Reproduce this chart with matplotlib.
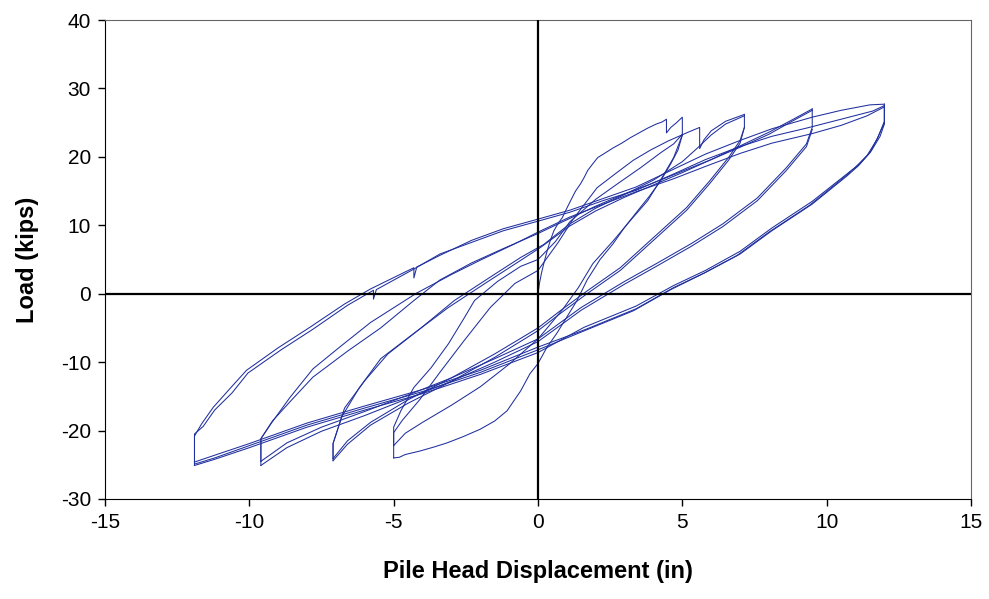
import matplotlib
matplotlib.use("Agg")
import matplotlib.pyplot as plt

plt.rcParams['font.family'] = ['Liberation Sans', 'DejaVu Sans']
plt.rcParams['axes.unicode_minus'] = False

# (displacement in, load kips), one list per branch
first_load = [(0.0, 0.0), (0.05, 1.5), (0.12, 3.0), (0.2, 4.4), (0.3, 6.0), (0.42, 7.7),
              (0.55, 9.2), (0.7, 10.3), (0.84, 11.1), (1.0, 12.5), (1.13, 13.6), (1.3, 15.0),
              (1.48, 16.1), (1.6, 17.0), (1.72, 18.0), (1.9, 19.0), (2.07, 19.9), (2.3, 20.5),
              (2.6, 21.3), (2.9, 22.0), (3.2, 22.8), (3.5, 23.5), (3.8, 24.2), (4.1, 24.8),
              (4.3, 25.1), (4.45, 25.5), (4.45, 23.5), (4.6, 24.3), (4.8, 25.0), (5.0, 25.8),
              (5.0, 23.2)]

down5a = [(5.0, 23.2), (4.85, 21.0), (4.6, 19.0), (4.25, 16.5), (3.85, 14.2), (3.45, 12.1),
          (3.0, 9.7), (2.6, 7.3), (2.15, 5.0), (1.7, 2.0), (1.35, -1.0), (1.0, -3.4),
          (0.65, -5.8), (0.3, -7.9), (0.0, -10.2), (-0.28, -11.7), (-0.6, -14.2), (-1.07, -17.1),
          (-1.5, -18.6), (-2.0, -19.8), (-2.6, -20.9), (-3.15, -21.8), (-3.6, -22.4),
          (-4.1, -23.0), (-4.6, -23.5), (-4.8, -23.9), (-5.0, -24.0)]
up5a = [(-5.0, -24.0), (-5.0, -19.5), (-4.75, -17.1), (-4.3, -13.7), (-3.7, -10.8),
        (-3.1, -7.3), (-2.55, -3.5), (-2.2, -1.0), (-1.4, 1.8), (-0.6, 4.0), (0.0, 5.0),
        (0.6, 7.6), (1.1, 10.5), (2.0, 13.8), (2.8, 16.2), (3.55, 18.4), (4.25, 20.6),
        (4.7, 21.9), (5.0, 23.3)]
down5b = [(5.0, 23.2), (4.7, 19.9), (4.3, 17.0), (3.8, 13.6), (3.2, 10.7), (2.6, 7.7),
          (1.9, 4.4), (1.4, 0.9), (0.87, -2.2), (0.4, -4.6), (0.0, -6.6), (-1.0, -10.3),
          (-2.0, -13.6), (-3.0, -16.3), (-4.0, -18.8), (-4.6, -20.4), (-5.0, -22.2)]
up5b = [(-5.0, -22.2), (-5.0, -20.3), (-4.7, -18.5), (-4.1, -15.5), (-3.4, -11.5),
        (-2.55, -6.8), (-1.65, -2.0), (-0.8, 1.5), (0.0, 3.4), (0.7, 7.5), (1.2, 10.8),
        (2.05, 15.5), (2.7, 17.6), (3.3, 19.5), (3.9, 21.0), (4.5, 22.3), (5.2, 23.6),
        (5.6, 24.3), (5.6, 21.2), (5.75, 22.5), (6.0, 23.8), (6.5, 25.2), (7.15, 26.2)]

down7a = [(7.15, 26.2), (7.15, 24.3), (7.0, 22.4), (6.6, 19.9), (5.95, 16.5), (5.15, 12.6),
          (4.0, 8.2), (2.85, 3.8), (1.7, 0.4), (0.77, -2.5), (0.0, -5.0), (-1.5, -8.8),
          (-3.0, -12.3), (-4.5, -15.5), (-5.8, -18.8), (-6.6, -21.5), (-7.1, -24.1)]
up7a = [(-7.1, -24.1), (-7.1, -21.9), (-6.7, -16.7), (-6.0, -12.7), (-5.2, -8.8),
        (-4.05, -5.0), (-2.9, -1.0), (-1.7, 2.3), (-0.6, 5.3), (0.2, 7.2), (1.1, 10.2),
        (2.0, 12.5), (3.0, 14.5), (4.0, 16.6), (5.0, 19.3), (5.5, 21.2), (6.0, 23.2),
        (6.5, 24.8), (7.15, 26.0)]
down7b = [(7.15, 24.3), (7.0, 22.0), (6.6, 19.5), (5.95, 16.1), (5.15, 12.2), (4.0, 7.8),
          (2.85, 3.4), (1.7, 0.0), (0.77, -2.9), (0.0, -5.4), (-1.5, -9.3), (-3.0, -12.8),
          (-4.5, -16.0), (-5.8, -19.2), (-6.6, -22.0), (-7.1, -24.4)]
up7b = [(-7.1, -24.4), (-7.1, -21.9), (-6.8, -18.0), (-6.2, -13.8), (-5.45, -9.5),
        (-4.3, -5.8), (-3.1, -2.0), (-1.8, 1.6), (-0.7, 4.6), (0.1, 6.8), (1.1, 9.9),
        (2.0, 12.1), (3.0, 14.1), (4.0, 15.9), (5.0, 17.7), (6.0, 19.6), (7.0, 21.6),
        (8.0, 23.6), (8.8, 25.4), (9.5, 27.0)]

down9a = [(9.5, 27.0), (9.5, 24.3), (9.3, 21.9), (8.6, 18.4), (7.6, 14.0), (6.4, 10.2),
          (5.3, 7.3), (4.1, 4.4), (3.0, 1.8), (1.5, -2.0), (0.0, -6.6), (-1.5, -9.5),
          (-3.0, -12.3), (-4.5, -14.8), (-6.0, -17.2), (-7.5, -19.5), (-8.7, -21.8),
          (-9.6, -24.5)]
up9a = [(-9.6, -24.5), (-9.6, -21.2), (-9.2, -18.6), (-8.55, -15.6), (-7.8, -12.2),
        (-6.6, -8.4), (-5.45, -5.0), (-4.3, -1.0), (-3.4, 2.0), (-2.3, 4.5), (-1.2, 6.6),
        (0.0, 8.8), (1.1, 11.0), (2.0, 12.8), (3.0, 14.6), (4.0, 16.2), (5.0, 17.9),
        (6.0, 19.6), (7.0, 21.4), (8.0, 23.3), (8.8, 25.2), (9.5, 26.8)]
down9b = [(9.5, 24.0), (9.3, 21.5), (8.6, 18.0), (7.6, 13.6), (6.4, 9.8), (5.3, 6.9),
          (4.1, 4.0), (3.0, 1.4), (1.5, -2.4), (0.0, -7.0), (-1.5, -10.0), (-3.0, -12.8),
          (-4.5, -15.3), (-6.0, -17.8), (-7.5, -20.1), (-8.7, -22.5), (-9.6, -25.1)]
up9b = [(-9.6, -25.1), (-9.6, -21.2), (-9.25, -19.0), (-8.6, -15.2), (-7.8, -11.0),
        (-6.9, -7.9), (-5.8, -4.2), (-4.2, 0.1), (-3.0, 2.8), (-2.0, 4.9), (-0.8, 7.3),
        (0.0, 9.0), (1.1, 11.2), (2.2, 13.0), (3.4, 14.9), (4.7, 16.8), (5.8, 18.6),
        (7.0, 20.5), (8.1, 22.0), (9.5, 23.4), (10.5, 24.6), (11.4, 26.0), (12.0, 27.3)]

down12a = [(12.0, 27.3), (12.0, 25.0), (11.8, 23.1), (11.5, 20.6), (11.1, 18.7),
           (10.7, 17.2), (9.5, 13.1), (8.1, 9.2), (7.0, 5.8), (5.8, 3.1), (4.7, 0.9),
           (3.4, -2.2), (1.6, -5.3), (0.0, -7.8), (-2.0, -11.2), (-4.0, -14.0),
           (-6.0, -16.4), (-8.0, -18.9), (-10.0, -21.9), (-11.2, -23.6), (-11.9, -24.6)]
up12a = [(-11.9, -24.6), (-11.9, -20.5), (-11.6, -19.4), (-11.2, -17.0), (-10.6, -14.5),
         (-10.05, -11.6), (-8.9, -8.2), (-7.8, -5.2), (-6.6, -1.7), (-5.7, 0.5),
         (-5.7, -0.8), (-5.6, 0.6), (-4.3, 3.6), (-3.4, 5.8), (-2.3, 7.5), (-1.2, 9.2),
         (0.0, 10.6), (1.1, 11.9), (2.25, 13.6), (3.4, 15.1), (4.7, 17.5), (5.8, 19.6),
         (7.0, 21.5), (8.1, 23.0), (9.3, 24.2), (10.5, 25.5), (11.6, 26.7), (12.0, 27.5)]
down12b = [(12.0, 27.5), (12.0, 24.8), (11.85, 23.0), (11.55, 20.9), (11.15, 19.0),
           (10.7, 17.5), (9.5, 13.5), (8.1, 9.6), (7.0, 6.2), (5.8, 3.4), (4.7, 1.2),
           (3.4, -1.8), (1.6, -4.9), (0.0, -8.6), (-2.0, -11.8), (-4.0, -14.6),
           (-6.0, -17.0), (-8.0, -19.5), (-10.0, -22.5), (-11.2, -24.2), (-11.9, -25.1)]
up12b = [(-11.9, -25.1), (-11.9, -20.8), (-11.65, -19.0), (-11.25, -16.6), (-10.7, -14.0),
         (-10.1, -11.2), (-9.0, -7.9), (-7.9, -4.9), (-6.7, -1.5), (-5.8, 0.7), (-4.3, 3.8),
         (-4.3, 2.3), (-4.2, 3.9), (-3.4, 5.6), (-2.3, 7.8), (-1.2, 9.5), (0.0, 10.9),
         (1.1, 12.2), (2.25, 13.9), (3.4, 15.6), (4.7, 18.2), (5.8, 20.4), (7.0, 22.4),
         (8.1, 24.1), (9.5, 25.8), (10.5, 26.8), (11.5, 27.6), (12.0, 27.7)]
down12c = [(12.0, 27.7), (12.0, 25.2), (11.75, 22.6), (11.4, 20.2), (11.0, 18.5),
           (10.6, 17.0), (9.4, 12.9), (8.0, 9.0), (6.9, 5.6), (5.7, 2.9), (4.6, 0.6),
           (3.3, -2.5), (1.5, -5.6), (0.0, -8.2), (-2.0, -11.5), (-4.0, -14.3),
           (-6.0, -16.7), (-8.0, -19.2), (-10.0, -22.2), (-11.2, -24.0), (-11.9, -24.9)]

record = [first_load, down5a, up5a, down5b, up5b, down7a, up7a, down7b, up7b,
          down9a, up9a, down9b, up9b, down12a, up12a, down12b, up12b, down12c]

fig = plt.figure(figsize=(9.89, 5.99), dpi=100)
ax = fig.add_axes([105 / 989, 1 - 499 / 599, 866 / 989, 479 / 599])

for branch in record:
    xs = [p[0] for p in branch]
    ys = [p[1] for p in branch]
    ax.plot(xs, ys, color='#1f2f9e', lw=0.75)

# zero lines
ax.axhline(0, color='black', lw=1.6, zorder=3)
ax.axvline(0, color='black', lw=1.6, zorder=3)

ax.set_xlim(-15, 15)
ax.set_ylim(-30, 40)
ax.set_xticks(range(-15, 16, 5))
ax.set_yticks(range(-30, 41, 10))
ax.tick_params(direction='out', length=5, width=1, labelsize=15, pad=5)
for s in ['top', 'right']:
    ax.spines[s].set_color('#666666')
for s in ['left', 'bottom']:
    ax.spines[s].set_color('black')

ax.set_xlabel('Pile Head Displacement (in)', fontsize=17, fontweight='bold', labelpad=20)
ax.set_ylabel('Load (kips)', fontsize=17, fontweight='bold', labelpad=16)

plt.savefig('out.png', dpi=100)
